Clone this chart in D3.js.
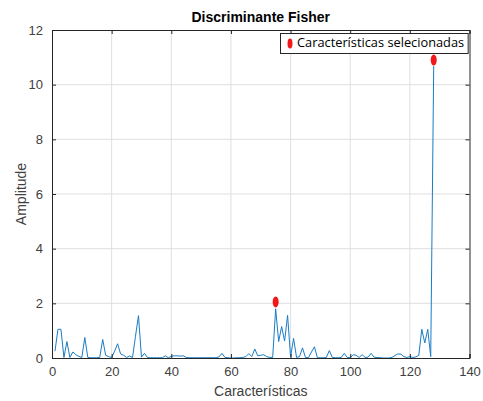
<!DOCTYPE html>
<html>
<head>
<meta charset="utf-8">
<script src="https://cdn.jsdelivr.net/npm/d3@7"></script>
<style>
body { margin:0; background:#fff; }
</style>
</head>
<body>
<div id="chart"></div>
<script>

// amplitude for features 1..128
var amplitude = [0.25,1.05,1.05,0.02,0.6,0.02,0.22,0.12,0.06,0.02,
	0.75,0.02,0.01,0.01,0.01,0.02,0.68,0.1,0.05,0.02,
	0.25,0.52,0.15,0.1,0.02,0.07,0.02,0.8,1.55,0.03,
	0.17,0.02,0.01,0.01,0.01,0.01,0.01,0.08,0.01,0.06,
	0.08,0.08,0.07,0.08,0.02,0.01,0.01,0.01,0.01,0.01,
	0.01,0.01,0.01,0.01,0.01,0.04,0.17,0.02,0.01,0.0,
	0.0,0.01,0.01,0.02,0.05,0.16,0.05,0.33,0.08,0.1,
	0.12,0.05,0.02,0.02,1.8,0.6,1.15,0.62,1.56,0.04,
	0.72,0.02,0.05,0.37,0.02,0.01,0.22,0.41,0.01,0.01,
	0.01,0.02,0.27,0.02,0.01,0.01,0.02,0.17,0.02,0.01,
	0.12,0.1,0.02,0.12,0.02,0.03,0.17,0.03,0.02,0.01,
	0.0,0.0,0.0,0.02,0.09,0.15,0.14,0.05,0.02,0.05,
	0.02,0.04,0.1,1.05,0.55,1.05,0.05,10.68];
var features = amplitude.map(function(d,i){ return i+1; });

// selected features (markers)
var selX = [75,128];
var selY = [2.05,10.9];

var xTicks = [0,20,40,60,80,100,120,140];
var yTicks = [0,2,4,6,8,10,12];

var width = 483, height = 401;
var margin = {left:52, right:13.5, top:30, bottom:43};
var axisColor = '#262626';
var font = 'Liberation Sans, Arial, sans-serif';

var svg = d3.select('#chart').append('svg')
	.attr('width',width)
	.attr('height',height);

var x = d3.scaleLinear().domain([0,140]).range([margin.left, width-margin.right]);
var y = d3.scaleLinear().domain([0,12]).range([height-margin.bottom, margin.top]);

// grid
svg.append('g').selectAll('line').data(xTicks.slice(1,-1)).enter().append('line')
	.attr('x1',function(d){return x(d);}).attr('x2',function(d){return x(d);})
	.attr('y1',y(0)).attr('y2',y(12))
	.attr('stroke','#dfdfdf').attr('stroke-width',1);
svg.append('g').selectAll('line').data(yTicks.slice(1,-1)).enter().append('line')
	.attr('y1',function(d){return y(d);}).attr('y2',function(d){return y(d);})
	.attr('x1',x(0)).attr('x2',x(140))
	.attr('stroke','#dfdfdf').attr('stroke-width',1);

// line
var line = d3.line()
	.x(function(d,i){ return x(features[i]); })
	.y(function(d){ return y(d); });

svg.append('path')
	.datum(amplitude)
	.attr('d',line)
	.attr('fill','none')
	.attr('stroke','#1a7cc4')
	.attr('stroke-width',1);

// axes (ticks inside, box on)
var xAxis = d3.axisBottom(x).tickValues(xTicks).tickSize(-4).tickPadding(9);
var yAxis = d3.axisLeft(y).tickValues(yTicks).tickSize(-4).tickPadding(9);

var gx = svg.append('g').attr('transform','translate(0,'+y(0)+')').call(xAxis);
var gy = svg.append('g').attr('transform','translate('+x(0)+',0)').call(yAxis);
svg.append('g').attr('transform','translate(0,'+y(12)+')').call(d3.axisTop(x).tickValues(xTicks).tickSize(-4).tickFormat(''));
svg.append('g').attr('transform','translate('+x(140)+',0)').call(d3.axisRight(y).tickValues(yTicks).tickSize(-4).tickFormat(''));

svg.selectAll('.domain').attr('stroke',axisColor);
svg.selectAll('.tick line').attr('stroke',axisColor);
svg.selectAll('.tick text')
	.attr('fill','#404040')
	.attr('font-family',font)
	.attr('font-size','13px');

// markers
svg.append('g').selectAll('ellipse').data(selX).enter().append('ellipse')
	.attr('cx',function(d){return x(d);})
	.attr('cy',function(d,i){return y(selY[i]);})
	.attr('rx',3).attr('ry',5.5)
	.attr('fill','#f01818');

// title and labels
svg.append('text')
	.attr('x',(x(0)+x(140))/2).attr('y',22)
	.attr('text-anchor','middle')
	.attr('font-family',font).attr('font-size','14px').attr('font-weight','bold')
	.attr('fill','#000')
	.text('Discriminante Fisher');

svg.append('text')
	.attr('x',(x(0)+x(140))/2).attr('y',396)
	.attr('text-anchor','middle')
	.attr('font-family',font).attr('font-size','14px')
	.attr('fill','#404040')
	.text('Características');

svg.append('text')
	.attr('transform','translate(26,'+((y(0)+y(12))/2)+') rotate(-90)')
	.attr('text-anchor','middle')
	.attr('font-family',font).attr('font-size','14px')
	.attr('fill','#404040')
	.text('Amplitude');

// legend
var leg = svg.append('g');
var legBox = leg.append('rect')
	.attr('fill','#fff').attr('stroke',axisColor).attr('stroke-width',1);
var legText = leg.append('text')
	.attr('x',297).attr('y',47)
	.attr('font-family','Open Sans, sans-serif').attr('font-size','12.8px')
	.attr('fill','#000')
	.text('Características selecionadas');
var tw = legText.node().getComputedTextLength();
legBox.attr('x',280.5).attr('y',33.5).attr('width',297+tw+4-280.5).attr('height',20);
leg.append('ellipse')
	.attr('cx',290).attr('cy',43.5)
	.attr('rx',2.5).attr('ry',5)
	.attr('fill','#f01818');

</script>
</body>
</html>
